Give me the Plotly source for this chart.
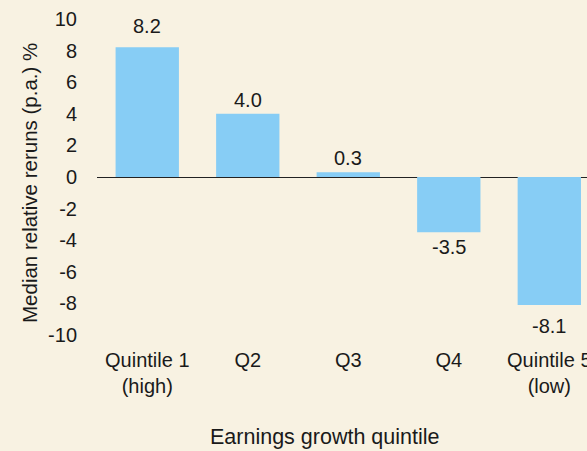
import plotly.graph_objects as go

categories = ["Quintile 1<br>(high)", "Q2", "Q3", "Q4", "Quintile 5<br>(low)"]
values = [8.2, 4.0, 0.3, -3.5, -8.1]
labels = ["8.2", "4.0", "0.3", "-3.5", "-8.1"]
y_ticks = [10, 8, 6, 4, 2, 0, -2, -4, -6, -8, -10]
y_ticktext = ["10", "8", "6", "4", "2", "0", "-2", "-4", "-6", "-8", "-10"]
x_title = "Earnings growth quintile"
y_title = "Median relative reruns (p.a.) %"

BG = "#f8f2e2"
BAR = "#87cdf5"
FONT = "Liberation Sans, Arial, Helvetica, sans-serif"
TXT = "#1a1a1a"

x_idx = list(range(len(categories)))

fig = go.Figure()
fig.add_trace(go.Bar(x=x_idx, y=values, width=0.63, marker=dict(color=BAR, line=dict(width=0)),
                     hoverinfo="skip"))

shifts = [21, 14, 14, -15, -21]
for i, (v, t, s) in enumerate(zip(values, labels, shifts)):
    fig.add_annotation(x=i, y=v, text=t, showarrow=False, yshift=s, yanchor="middle",
                       font=dict(size=20, color=TXT, family=FONT))

# axis titles as annotations (positioned relative to the plot area)
fig.add_annotation(xref="paper", yref="paper", x=0.464, y=-0.283, text=x_title,
                   showarrow=False, xanchor="center", yanchor="middle",
                   font=dict(size=21.5, color=TXT, family=FONT))
fig.add_annotation(xref="paper", yref="paper", x=-0.1367, y=0.482, text=y_title,
                   showarrow=False, textangle=-90, xanchor="center", yanchor="middle",
                   font=dict(size=20.5, color=TXT, family=FONT))

fig.update_layout(
    width=587, height=451,
    paper_bgcolor=BG, plot_bgcolor=BG,
    margin=dict(l=97, r=0, t=11, b=108, autoexpand=False),
    showlegend=False,
    font=dict(family=FONT, size=20, color=TXT),
    xaxis=dict(
        tickmode="array", tickvals=x_idx, ticktext=categories, automargin=False,
        range=[-0.5, 4.375], showgrid=False, zeroline=False, showline=False,
        ticks="", tickfont=dict(size=20), ticklabeloverflow="allow", ticklabelstandoff=3,
    ),
    yaxis=dict(
        range=[-10.5, 10.5], tickmode="array", tickvals=y_ticks, ticktext=y_ticktext,
        automargin=False,
        showgrid=False, zeroline=True, zerolinecolor="#222222", zerolinewidth=1,
        showline=False, ticks="", ticklabelstandoff=19, tickfont=dict(size=20),
    ),
)

fig.write_html(
    "out.html",
    config={"displayModeBar": False},
    post_script="document.body.style.margin='0';document.body.style.overflow='hidden';",
)
